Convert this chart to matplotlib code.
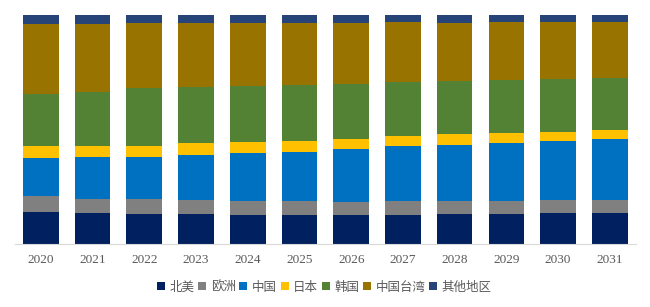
import matplotlib.pyplot as plt
import numpy as np

plt.rcParams['font.family'] = ['Noto Sans CJK SC', 'DejaVu Sans']

# data (share in %)
years = ['2020', '2021', '2022', '2023', '2024', '2025',
         '2026', '2027', '2028', '2029', '2030', '2031']
north_america = [14.0, 13.5, 13.1, 13.1, 12.7, 12.7, 12.7, 12.7, 13.1, 13.1, 13.5, 13.5]
europe = [7.0, 6.1, 6.6, 6.1, 6.1, 6.1, 5.7, 6.1, 5.7, 5.7, 5.7, 5.7]
china = [16.6, 18.3, 18.3, 19.7, 21.0, 21.4, 23.1, 24.0, 24.5, 25.3, 25.8, 26.6]
japan = [5.2, 4.8, 4.8, 5.2, 4.8, 4.8, 4.4, 4.4, 4.8, 4.4, 3.9, 3.9]
korea = [22.9, 23.7, 25.5, 24.5, 24.6, 24.5, 24.2, 23.7, 23.1, 23.3, 23.1, 22.9]
taiwan = [30.4, 29.7, 28.2, 27.9, 27.3, 27.0, 26.4, 26.0, 25.3, 25.1, 24.9, 24.3]
other = [3.9, 3.9, 3.5, 3.5, 3.5, 3.5, 3.5, 3.1, 3.5, 3.1, 3.1, 3.1]

labels = ['北美', '欧洲', '中国', '日本', '韩国', '中国台湾', '其他地区']
colors = ['#002060', '#808080', '#0070C0', '#FFC000', '#548235', '#997300', '#264478']
series = [north_america, europe, china, japan, korea, taiwan, other]

fig = plt.figure(figsize=(6.5, 3.07), dpi=100)
ax = fig.add_axes([0.023, 0.205, 0.955, 0.746])

x = np.arange(len(years))
bottom = np.zeros(len(years))
for vals, lab, col in zip(series, labels, colors):
    ax.bar(x, vals, 0.69, bottom=bottom, color=col, label=lab)
    bottom += np.array(vals)

ax.set_ylim(0, 100)
ax.set_xlim(-0.5, len(years) - 0.5)

ax.set_xticks(x)
ax.set_xticklabels(years, family='Liberation Serif', fontsize=9.5, color='#595959')
ax.tick_params(axis='x', length=0, pad=7)
ax.set_yticks([])
for s in ['top', 'right', 'left']:
    ax.spines[s].set_visible(False)
ax.spines['bottom'].set_color('#D9D9D9')

fig.legend(loc='center', bbox_to_anchor=(0.499, 0.065), ncol=7, frameon=False,
           fontsize=9, handlelength=0.65, handleheight=0.65, handletextpad=0.35,
           columnspacing=0.3, labelcolor='#595959')

fig.savefig('out.png', dpi=100)
